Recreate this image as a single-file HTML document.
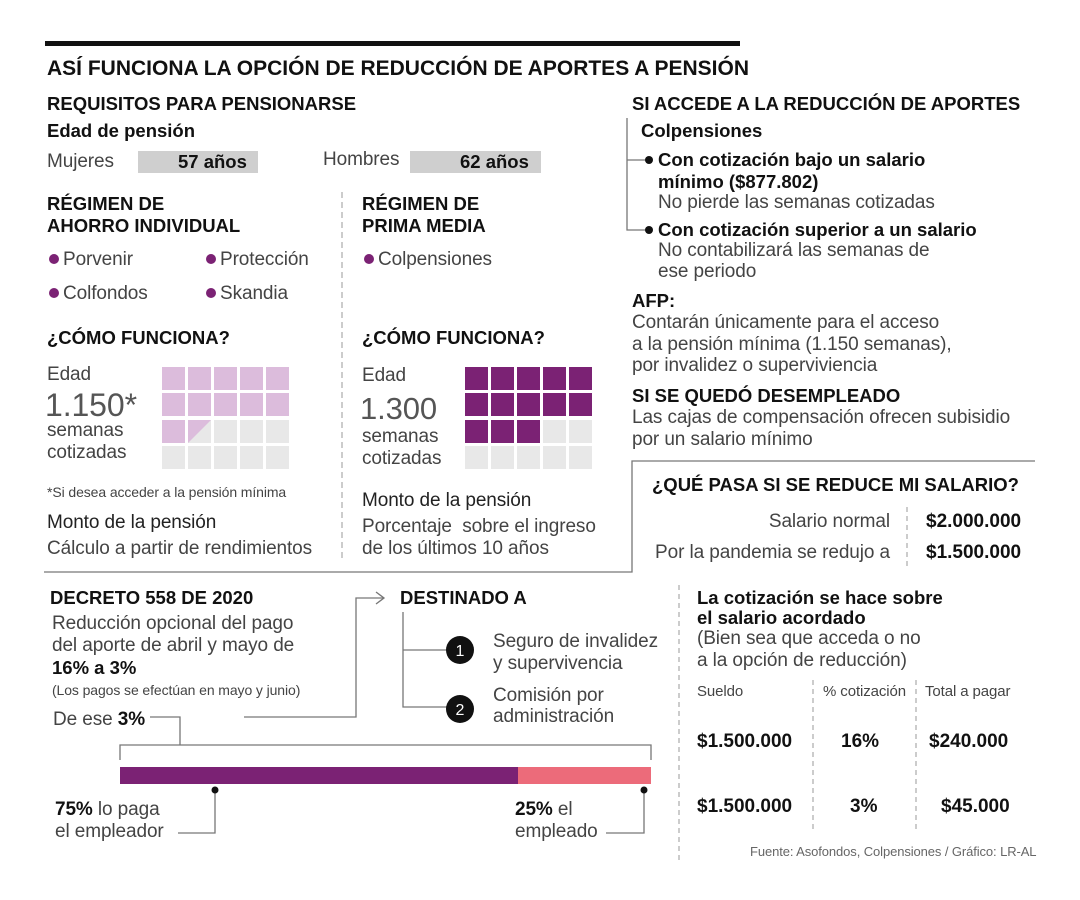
<!DOCTYPE html>
<html><head><meta charset="utf-8"><style>
body{margin:0;width:1080px;height:900px;background:#fff;position:relative;overflow:hidden;font-family:"Liberation Sans",sans-serif;color:#333}
.t{position:absolute;white-space:nowrap;line-height:22px;font-size:19px;letter-spacing:-0.1px;color:#444}
.b{font-weight:bold;color:#111;font-size:18.5px;letter-spacing:0}
.s{font-size:14px;line-height:18px}
.r{text-align:right}
.dot{display:inline-block;width:10px;height:10px;border-radius:50%;background:#7b2274;margin-right:4px;vertical-align:1px}
.bd{display:inline-block;width:8px;height:8px;border-radius:50%;background:#111;margin-right:5px;vertical-align:2px}
svg{position:absolute;left:0;top:0}
</style></head><body>
<svg width="1080" height="900">
<rect x="45" y="41" width="695" height="5" fill="#111"/>
<rect x="138" y="151" width="120" height="22" fill="#cfcfcf"/>
<rect x="410" y="151" width="131" height="22" fill="#cfcfcf"/>
<line x1="342" y1="192" x2="342" y2="562" stroke="#999" stroke-dasharray="6,4"/>
<g stroke="#777" fill="none" stroke-width="1.3">
<polyline points="627,118 627,230 650,230"/>
<line x1="627" y1="160" x2="650" y2="160"/>
<polyline points="1035,461 632,461 632,572 44,572"/>
<polyline points="150,717 180,717 180,745"/>
<polyline points="120,760 120,745 651,745 651,760"/>
<polyline points="244,717 356,717 356,598 383,598"/>
<polyline points="376,592 384,598 376,604"/>
<polyline points="403,612 403,707 447,707"/>
<line x1="403" y1="650" x2="447" y2="650"/>
<polyline points="215,790 215,833 178,833"/>
<polyline points="644,790 644,833 606,833"/>
</g>
<g stroke="#999" stroke-dasharray="5,4">
<line x1="907" y1="507" x2="907" y2="570"/>
<line x1="679" y1="585" x2="679" y2="860"/>
<line x1="813" y1="680" x2="813" y2="830"/>
<line x1="916" y1="680" x2="916" y2="830"/>
</g>
<circle cx="460" cy="650" r="14" fill="#111"/><circle cx="460" cy="709" r="14" fill="#111"/>
<text x="460" y="656" fill="#fff" font-size="16" text-anchor="middle" font-family="Liberation Sans">1</text>
<text x="460" y="715" fill="#fff" font-size="16" text-anchor="middle" font-family="Liberation Sans">2</text>
<rect x="120" y="767" width="398" height="17" fill="#7b2274"/>
<rect x="518" y="767" width="133" height="17" fill="#ec6b7a"/>
<circle cx="215" cy="790" r="3.5" fill="#111"/><circle cx="644" cy="790" r="3.5" fill="#111"/>
<g fill="#dcbcdc">
<rect x="162" y="367" width="23" height="23"/><rect x="188" y="367" width="23" height="23"/><rect x="214" y="367" width="23" height="23"/><rect x="240" y="367" width="23" height="23"/><rect x="266" y="367" width="23" height="23"/>
<rect x="162" y="393" width="23" height="23"/><rect x="188" y="393" width="23" height="23"/><rect x="214" y="393" width="23" height="23"/><rect x="240" y="393" width="23" height="23"/><rect x="266" y="393" width="23" height="23"/>
<rect x="162" y="420" width="23" height="23"/>
</g>
<g fill="#e8e8e8">
<rect x="188" y="420" width="23" height="23"/><rect x="214" y="420" width="23" height="23"/><rect x="240" y="420" width="23" height="23"/><rect x="266" y="420" width="23" height="23"/>
<rect x="162" y="446" width="23" height="23"/><rect x="188" y="446" width="23" height="23"/><rect x="214" y="446" width="23" height="23"/><rect x="240" y="446" width="23" height="23"/><rect x="266" y="446" width="23" height="23"/>
</g>
<polygon points="188,420 211,420 188,443" fill="#dcbcdc"/>
<g fill="#7b2274">
<rect x="465" y="367" width="23" height="23"/><rect x="491" y="367" width="23" height="23"/><rect x="517" y="367" width="23" height="23"/><rect x="543" y="367" width="23" height="23"/><rect x="569" y="367" width="23" height="23"/>
<rect x="465" y="393" width="23" height="23"/><rect x="491" y="393" width="23" height="23"/><rect x="517" y="393" width="23" height="23"/><rect x="543" y="393" width="23" height="23"/><rect x="569" y="393" width="23" height="23"/>
<rect x="465" y="420" width="23" height="23"/><rect x="491" y="420" width="23" height="23"/><rect x="517" y="420" width="23" height="23"/>
</g>
<g fill="#e8e8e8">
<rect x="543" y="420" width="23" height="23"/><rect x="569" y="420" width="23" height="23"/>
<rect x="465" y="446" width="23" height="23"/><rect x="491" y="446" width="23" height="23"/><rect x="517" y="446" width="23" height="23"/><rect x="543" y="446" width="23" height="23"/><rect x="569" y="446" width="23" height="23"/>
</g>
</svg>

<div class="t b" style="left:47px;top:58px;font-size:21px">ASÍ FUNCIONA LA OPCIÓN DE REDUCCIÓN DE APORTES A PENSIÓN</div>
<div class="t b" style="left:47px;top:93px">REQUISITOS PARA PENSIONARSE</div>
<div class="t b" style="left:47px;top:120px">Edad de pensión</div>
<div class="t" style="left:47px;top:151px">Mujeres</div>
<div class="t b" style="left:178px;top:151px">57 años</div>
<div class="t" style="left:323px;top:149px">Hombres</div>
<div class="t b" style="left:460px;top:151px">62 años</div>

<div class="t b" style="left:47px;top:193px">RÉGIMEN DE</div>
<div class="t b" style="left:47px;top:215px">AHORRO INDIVIDUAL</div>
<div class="t" style="left:49px;top:249px"><span class="dot"></span>Porvenir</div>
<div class="t" style="left:206px;top:249px"><span class="dot"></span>Protección</div>
<div class="t" style="left:49px;top:283px"><span class="dot"></span>Colfondos</div>
<div class="t" style="left:206px;top:283px"><span class="dot"></span>Skandia</div>
<div class="t b" style="left:47px;top:327px">¿CÓMO FUNCIONA?</div>
<div class="t" style="left:47px;top:364px">Edad</div>
<div class="t" style="left:45px;top:388px;font-size:32px;line-height:34px;color:#555">1.150*</div>
<div class="t" style="left:47px;top:420px">semanas</div>
<div class="t" style="left:47px;top:442px">cotizadas</div>
<div class="t s" style="left:47px;top:483px">*Si desea acceder a la pensión mínima</div>
<div class="t" style="left:47px;top:512px;color:#222">Monto de la pensión</div>
<div class="t" style="left:47px;top:538px">Cálculo a partir de rendimientos</div>

<div class="t b" style="left:362px;top:193px">RÉGIMEN DE</div>
<div class="t b" style="left:362px;top:215px">PRIMA MEDIA</div>
<div class="t" style="left:364px;top:249px"><span class="dot"></span>Colpensiones</div>
<div class="t b" style="left:362px;top:327px">¿CÓMO FUNCIONA?</div>
<div class="t" style="left:362px;top:365px">Edad</div>
<div class="t" style="left:360px;top:393px;font-size:31px;line-height:32px;color:#555">1.300</div>
<div class="t" style="left:362px;top:426px">semanas</div>
<div class="t" style="left:362px;top:448px">cotizadas</div>
<div class="t" style="left:362px;top:490px;color:#222">Monto de la pensión</div>
<div class="t" style="left:362px;top:516px">Porcentaje&nbsp; sobre el ingreso</div>
<div class="t" style="left:362px;top:538px">de los últimos 10 años</div>

<div class="t b" style="left:632px;top:93px">SI ACCEDE A LA REDUCCIÓN DE APORTES</div>
<div class="t b" style="left:641px;top:120px">Colpensiones</div>
<div class="t b" style="left:645px;top:149px"><span class="bd"></span>Con cotización bajo un salario</div>
<div class="t b" style="left:658px;top:171px">mínimo ($877.802)</div>
<div class="t" style="left:658px;top:192px">No pierde las semanas cotizadas</div>
<div class="t b" style="left:645px;top:219px"><span class="bd"></span>Con cotización superior a un salario</div>
<div class="t" style="left:658px;top:240px">No contabilizará las semanas de</div>
<div class="t" style="left:658px;top:261px">ese periodo</div>
<div class="t b" style="left:632px;top:290px">AFP:</div>
<div class="t" style="left:632px;top:312px">Contarán únicamente para el acceso</div>
<div class="t" style="left:632px;top:334px">a la pensión mínima (1.150 semanas),</div>
<div class="t" style="left:632px;top:355px">por invalidez o superviviencia</div>
<div class="t b" style="left:632px;top:385px">SI SE QUEDÓ DESEMPLEADO</div>
<div class="t" style="left:632px;top:407px">Las cajas de compensación ofrecen subisidio</div>
<div class="t" style="left:632px;top:429px">por un salario mínimo</div>

<div class="t b" style="left:652px;top:474px">¿QUÉ PASA SI SE REDUCE MI SALARIO?</div>
<div class="t r" style="left:590px;width:300px;top:511px">Salario normal</div>
<div class="t r" style="left:590px;width:300px;top:542px">Por la pandemia se redujo a</div>
<div class="t b" style="left:926px;top:511px;font-size:19px">$2.000.000</div>
<div class="t b" style="left:926px;top:542px;font-size:19px">$1.500.000</div>

<div class="t b" style="left:50px;top:587px">DECRETO 558 DE 2020</div>
<div class="t" style="left:52px;top:613px">Reducción opcional del pago</div>
<div class="t" style="left:52px;top:635px">del aporte de abril y mayo de</div>
<div class="t b" style="left:52px;top:657px">16% a 3%</div>
<div class="t s" style="left:52px;top:681px">(Los pagos se efectúan en mayo y junio)</div>
<div class="t" style="left:53px;top:709px">De ese <b style="color:#111">3%</b></div>

<div class="t b" style="left:400px;top:587px">DESTINADO A</div>
<div class="t" style="left:493px;top:631px">Seguro de invalidez</div>
<div class="t" style="left:493px;top:653px">y supervivencia</div>
<div class="t" style="left:493px;top:685px">Comisión por</div>
<div class="t" style="left:493px;top:706px">administración</div>

<div class="t" style="left:55px;top:799px"><b style="color:#111">75%</b> lo paga</div>
<div class="t" style="left:55px;top:821px">el empleador</div>
<div class="t" style="left:515px;top:799px"><b style="color:#111">25%</b> el</div>
<div class="t" style="left:515px;top:821px">empleado</div>

<div class="t b" style="left:697px;top:587px">La cotización se hace sobre</div>
<div class="t b" style="left:697px;top:607px">el salario acordado</div>
<div class="t" style="left:697px;top:628px">(Bien sea que acceda o no</div>
<div class="t" style="left:697px;top:650px">a la opción de reducción)</div>
<div class="t s" style="left:697px;top:683px;font-size:15px">Sueldo</div>
<div class="t s" style="left:823px;top:683px;font-size:15px">% cotización</div>
<div class="t s" style="left:925px;top:683px;font-size:15px">Total a pagar</div>
<div class="t b" style="left:697px;top:731px;font-size:19px">$1.500.000</div>
<div class="t b" style="left:841px;top:731px;font-size:19px">16%</div>
<div class="t b" style="left:929px;top:731px;font-size:19px">$240.000</div>
<div class="t b" style="left:697px;top:796px;font-size:19px">$1.500.000</div>
<div class="t b" style="left:850px;top:796px;font-size:19px">3%</div>
<div class="t b" style="left:941px;top:796px;font-size:19px">$45.000</div>
<div class="t s" style="left:750px;top:843px;font-size:13px;color:#666">Fuente: Asofondos, Colpensiones / Gráfico: LR-AL</div>
</body></html>
